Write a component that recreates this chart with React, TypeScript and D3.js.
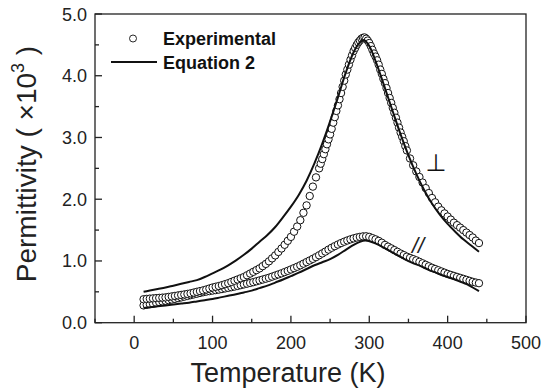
import React, { useEffect, useRef } from 'react';
import * as d3 from 'd3';

// Experimental data, perpendicular direction (T in K, permittivity x10^3)
const perpExpT = [
  12, 16, 20, 24, 28, 32, 36, 40, 44, 48, 52, 56, 60, 64, 68, 72, 76, 80, 84, 88,
  92, 96, 100, 104, 108, 112, 116, 120, 124, 128, 132, 136, 140, 144, 148, 152, 156, 160, 164, 168,
  172, 176, 180, 184, 188, 192, 196, 200, 204, 208, 212, 216, 220, 224, 228, 232, 236, 238, 240, 242,
  244, 246, 248, 250, 252, 254, 256, 258, 260, 262, 264, 266, 268, 270, 272, 274, 276, 278, 280, 282,
  284, 286, 288, 290, 292, 294, 296, 298, 300, 302, 304, 306, 308, 310, 312, 314, 316, 318, 320, 322,
  324, 326, 328, 330, 332, 334, 336, 338, 340, 342, 344, 346, 348, 352, 356, 360, 364, 368, 372, 376,
  380, 384, 388, 392, 396, 400, 404, 408, 412, 416, 420, 424, 428, 432, 436, 440
];
const perpExpV = [
  0.38, 0.385, 0.39, 0.394, 0.398, 0.402, 0.406, 0.41, 0.418, 0.426, 0.434, 0.442, 0.45, 0.458, 0.466, 0.476, 0.488, 0.5, 0.512, 0.524,
  0.538, 0.554, 0.57, 0.582, 0.594, 0.608, 0.624, 0.64, 0.66, 0.68, 0.7, 0.72, 0.74, 0.768, 0.796, 0.824, 0.852, 0.88, 0.916, 0.952,
  0.994, 1.042, 1.09, 1.146, 1.202, 1.262, 1.326, 1.39, 1.474, 1.558, 1.66, 1.78, 1.9, 2.052, 2.204, 2.354, 2.5, 2.575, 2.65, 2.73,
  2.81, 2.89, 2.97, 3.05, 3.14, 3.24, 3.33, 3.43, 3.52, 3.62, 3.72, 3.82, 3.92, 4.02, 4.1, 4.18, 4.26, 4.33, 4.4, 4.45,
  4.5, 4.54, 4.57, 4.6, 4.615, 4.62, 4.6, 4.57, 4.53, 4.48, 4.42, 4.36, 4.31, 4.25, 4.18, 4.1, 4.03, 3.95, 3.88, 3.8,
  3.72, 3.64, 3.56, 3.48, 3.4, 3.32, 3.24, 3.16, 3.08, 3.01, 2.94, 2.86, 2.79, 2.66, 2.55, 2.45, 2.36, 2.27, 2.18, 2.1,
  2.02, 1.95, 1.88, 1.82, 1.77, 1.72, 1.67, 1.62, 1.58, 1.54, 1.5, 1.46, 1.42, 1.38, 1.33, 1.29
];

// Experimental data, parallel direction
const parExpT = [
  12, 16, 20, 24, 28, 32, 36, 40, 44, 48, 52, 56, 60, 64, 68, 72, 76, 80, 84, 88,
  92, 96, 100, 104, 108, 112, 116, 120, 124, 128, 132, 136, 140, 144, 148, 152, 156, 160, 164, 168,
  172, 176, 180, 184, 188, 192, 196, 200, 204, 208, 212, 216, 220, 224, 228, 232, 236, 240, 244, 248,
  252, 256, 260, 264, 268, 272, 276, 280, 284, 288, 292, 296, 300, 304, 308, 312, 316, 320, 324, 328,
  332, 336, 340, 344, 348, 352, 356, 360, 364, 368, 372, 376, 380, 384, 388, 392, 396, 400, 404, 408,
  412, 416, 420, 424, 428, 432, 436, 440
];
const parExpV = [
  0.28, 0.29, 0.3, 0.31, 0.325, 0.335, 0.345, 0.355, 0.365, 0.375, 0.386, 0.398, 0.41, 0.422, 0.434, 0.446, 0.458, 0.47, 0.482, 0.494,
  0.504, 0.512, 0.52, 0.528, 0.536, 0.545, 0.555, 0.565, 0.575, 0.585, 0.596, 0.608, 0.62, 0.632, 0.644, 0.657, 0.671, 0.685, 0.699, 0.713,
  0.728, 0.746, 0.764, 0.782, 0.8, 0.82, 0.84, 0.862, 0.884, 0.906, 0.93, 0.956, 0.982, 1.008, 1.034, 1.062, 1.092, 1.122, 1.152, 1.184,
  1.214, 1.24, 1.266, 1.29, 1.312, 1.332, 1.35, 1.366, 1.38, 1.39, 1.398, 1.4, 1.39, 1.37, 1.35, 1.325, 1.295, 1.26, 1.232, 1.204,
  1.176, 1.148, 1.12, 1.095, 1.07, 1.05, 1.03, 1.01, 0.986, 0.962, 0.938, 0.914, 0.89, 0.87, 0.85, 0.83, 0.81, 0.79, 0.774, 0.758,
  0.742, 0.726, 0.71, 0.694, 0.678, 0.662, 0.65, 0.64
];

// Equation 2 fits
const perpFitT = [12, 20, 30, 40, 50, 60, 70, 80, 90, 100, 110, 120, 130, 140, 150, 160, 170, 180, 190, 200, 210, 220, 230, 240, 250, 260, 270, 280, 288, 293, 300, 310, 320, 330, 340, 350, 360, 370, 380, 390, 400, 410, 420, 430, 440];
const perpFitV = [0.5, 0.52, 0.545, 0.57, 0.6, 0.63, 0.66, 0.69, 0.74, 0.8, 0.86, 0.93, 1.01, 1.1, 1.2, 1.31, 1.42, 1.55, 1.71, 1.88, 2.07, 2.3, 2.58, 2.9, 3.26, 3.65, 4.05, 4.38, 4.54, 4.58, 4.48, 4.17, 3.8, 3.42, 3.05, 2.71, 2.41, 2.15, 1.93, 1.75, 1.6, 1.47, 1.35, 1.25, 1.15];

const parFitT = [12, 20, 30, 40, 50, 60, 70, 80, 90, 100, 110, 120, 130, 140, 150, 160, 170, 180, 190, 200, 210, 220, 230, 240, 250, 260, 270, 280, 288, 295, 305, 315, 325, 335, 345, 355, 365, 375, 385, 395, 405, 415, 425, 432, 440];
const parFitV = [0.24, 0.25, 0.265, 0.28, 0.295, 0.31, 0.325, 0.345, 0.365, 0.385, 0.41, 0.435, 0.46, 0.49, 0.52, 0.56, 0.6, 0.65, 0.7, 0.755, 0.81, 0.87, 0.93, 0.98, 1.03, 1.1, 1.18, 1.26, 1.31, 1.33, 1.3, 1.24, 1.17, 1.1, 1.03, 0.97, 0.92, 0.86, 0.81, 0.76, 0.72, 0.67, 0.62, 0.57, 0.51];

const xTicks = [0, 100, 200, 300, 400, 500];
const xMinorTicks = [-50, 50, 150, 250, 350, 450];
const yTicks = [0, 1, 2, 3, 4, 5];
const yMinorTicks = [0.5, 1.5, 2.5, 3.5, 4.5];

const W = 543;
const H = 391;
const FONT = '"Liberation Sans", Arial, sans-serif';

const App = () => {
  const ref = useRef<SVGSVGElement>(null);

  useEffect(() => {
    const svg = d3.select(ref.current);
    svg.selectAll('*').remove();

    const left = 95, right = 526, top = 14, bottom = 322.7;
    const x = d3.scaleLinear().domain([-50, 500]).range([left, right]);
    const y = d3.scaleLinear().domain([0, 5]).range([bottom, top]);

    // frame
    svg.append('rect')
      .attr('x', left).attr('y', top)
      .attr('width', right - left).attr('height', bottom - top)
      .attr('fill', 'none').attr('stroke', '#222').attr('stroke-width', 1.3);

    // ticks, pointing inward
    const g = svg.append('g').attr('stroke', '#222').attr('stroke-width', 1.3);
    xTicks.forEach(t => g.append('line').attr('x1', x(t)).attr('x2', x(t)).attr('y1', bottom).attr('y2', bottom - 7));
    xMinorTicks.forEach(t => g.append('line').attr('x1', x(t)).attr('x2', x(t)).attr('y1', bottom).attr('y2', bottom - 4));
    yTicks.forEach(t => g.append('line').attr('x1', left).attr('x2', left + 7).attr('y1', y(t)).attr('y2', y(t)));
    yMinorTicks.forEach(t => g.append('line').attr('x1', left).attr('x2', left + 4).attr('y1', y(t)).attr('y2', y(t)));

    // tick labels
    svg.append('g').selectAll('text').data(xTicks).enter().append('text')
      .attr('x', d => x(d)).attr('y', bottom + 26)
      .attr('text-anchor', 'middle')
      .attr('font-family', FONT).attr('font-size', 18).attr('fill', '#222')
      .text(d => d);
    svg.append('g').selectAll('text').data(yTicks).enter().append('text')
      .attr('x', left - 8).attr('y', d => y(d) + 6.5)
      .attr('text-anchor', 'end')
      .attr('font-family', FONT).attr('font-size', 18).attr('fill', '#222')
      .text(d => d.toFixed(1));

    // axis titles
    svg.append('text')
      .attr('x', 288).attr('y', 382)
      .attr('text-anchor', 'middle')
      .attr('font-family', FONT).attr('font-size', 27).attr('fill', '#222')
      .text('Temperature (K)');

    const yt = svg.append('text')
      .attr('transform', `translate(36,164) rotate(-90)`)
      .attr('text-anchor', 'middle')
      .attr('font-family', FONT).attr('font-size', 28).attr('fill', '#222');
    yt.append('tspan').text('Permittivity ( ×10');
    yt.append('tspan').attr('dy', -12).attr('font-size', 18).text('3');
    yt.append('tspan').attr('dy', 12).text(' )');

    // experimental circles
    const drawCircles = (ts: number[], vs: number[]) => {
      svg.append('g').selectAll('circle').data(ts).enter().append('circle')
        .attr('cx', d => x(d))
        .attr('cy', (d, i) => y(vs[i]))
        .attr('r', 3.7)
        .attr('fill', '#fff')
        .attr('stroke', '#111')
        .attr('stroke-width', 1);
    };
    drawCircles(parExpT, parExpV);
    drawCircles(perpExpT, perpExpV);

    // fitted lines
    const line = d3.line<number>().curve(d3.curveMonotoneX);
    const drawLine = (ts: number[], vs: number[]) => {
      svg.append('path')
        .attr('d', line.x(d => x(d)).y((d, i) => y(vs[i]))(ts))
        .attr('fill', 'none')
        .attr('stroke', '#111')
        .attr('stroke-width', 2);
    };
    drawLine(perpFitT, perpFitV);
    drawLine(parFitT, parFitV);

    // direction labels
    svg.append('text')
      .attr('x', 436).attr('y', 171)
      .attr('text-anchor', 'middle')
      .attr('font-family', '"DejaVu Sans", sans-serif').attr('font-size', 24).attr('fill', '#111')
      .text('⊥');
    svg.append('text')
      .attr('x', 418).attr('y', 253)
      .attr('text-anchor', 'middle')
      .attr('font-family', FONT).attr('font-style', 'italic').attr('font-size', 22).attr('fill', '#222')
      .text('//');

    // legend
    svg.append('circle')
      .attr('cx', 133).attr('cy', 38.5).attr('r', 3.5)
      .attr('fill', '#fff').attr('stroke', '#111').attr('stroke-width', 0.9);
    svg.append('line')
      .attr('x1', 111).attr('x2', 157).attr('y1', 62).attr('y2', 62)
      .attr('stroke', '#111').attr('stroke-width', 2);
    svg.append('text')
      .attr('x', 163).attr('y', 44.5)
      .attr('font-family', FONT).attr('font-weight', 'bold').attr('font-size', 18).attr('fill', '#111')
      .text('Experimental');
    svg.append('text')
      .attr('x', 163).attr('y', 68.5)
      .attr('font-family', FONT).attr('font-weight', 'bold').attr('font-size', 18).attr('fill', '#111')
      .text('Equation 2');
  }, []);

  return (
    <svg ref={ref} width={W} height={H}
      style={{ position: 'absolute', left: 0, top: 0, background: '#fff' }} />
  );
};

export default App;
